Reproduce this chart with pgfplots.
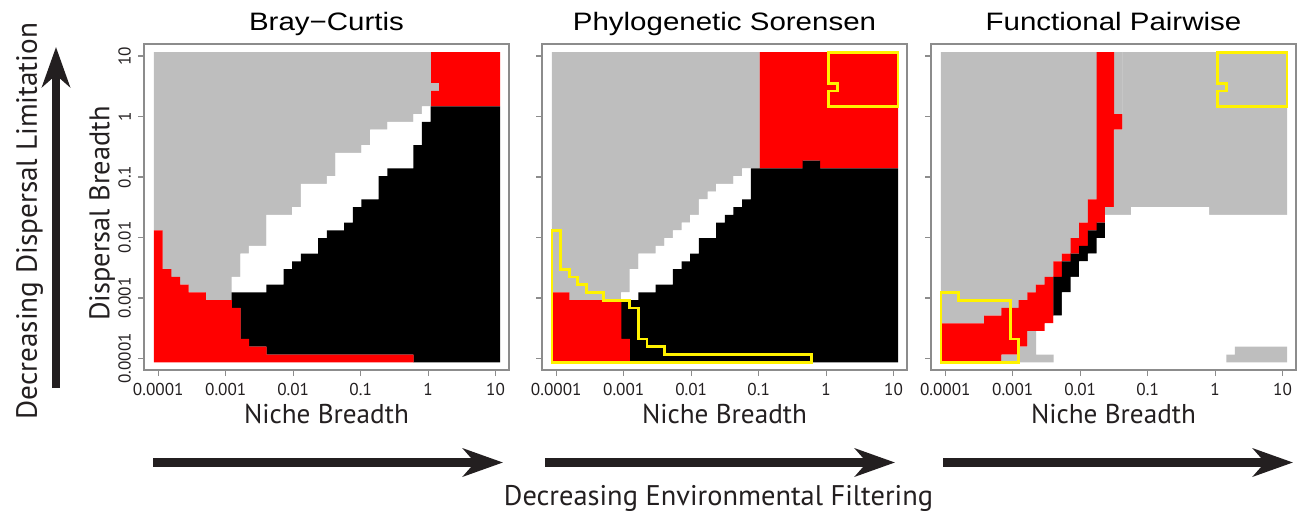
\documentclass[border=0pt]{standalone}
\usepackage{pgfplots}
\pgfplotsset{compat=1.18}
\usepackage{pgfplotstable}
\usepackage{fontspec}
\setmainfont{PT Sans}
\newfontfamily\rfont{Liberation Sans}
\usetikzlibrary{arrows.meta}

\definecolor{rgray}{RGB}{190,190,190}
\definecolor{framegray}{RGB}{140,140,140}
\definecolor{ink}{RGB}{35,31,32}

% 40x40 grid, one row per column of cells: heights of the coloured runs, bottom to top
% panel A: red, black, white, grey, red, grey, red
\pgfplotstableread{
c r k w g r2 g2 r3
0 17 0 0 23 0 0 0
1 12 0 0 28 0 0 0
2 11 0 0 29 0 0 0
3 10 0 0 30 0 0 0
4 9 0 0 31 0 0 0
5 9 0 0 31 0 0 0
6 8 0 0 32 0 0 0
7 8 0 0 32 0 0 0
8 8 0 0 32 0 0 0
9 7 2 2 29 0 0 0
10 3 6 5 26 0 0 0
11 2 7 6 25 0 0 0
12 2 7 6 25 0 0 0
13 1 9 9 21 0 0 0
14 1 9 9 21 0 0 0
15 1 11 7 21 0 0 0
16 1 12 7 20 0 0 0
17 1 13 9 17 0 0 0
18 1 13 9 17 0 0 0
19 1 15 7 17 0 0 0
20 1 16 7 16 0 0 0
21 1 16 10 13 0 0 0
22 1 17 9 13 0 0 0
23 1 19 7 13 0 0 0
24 1 20 7 12 0 0 0
25 1 20 9 10 0 0 0
26 1 23 6 10 0 0 0
27 1 24 6 9 0 0 0
28 1 24 6 9 0 0 0
29 1 24 6 9 0 0 0
30 0 28 4 8 0 0 0
31 0 31 2 7 0 0 0
32 0 33 0 0 2 1 4
33 0 33 0 0 7 0 0
34 0 33 0 0 7 0 0
35 0 33 0 0 7 0 0
36 0 33 0 0 7 0 0
37 0 33 0 0 7 0 0
38 0 33 0 0 7 0 0
39 0 33 0 0 7 0 0
}\tabA

% panel B: red, black, white, grey, red
\pgfplotstableread{
c r k w g r2
0 9 0 0 31 0
1 9 0 0 31 0
2 8 0 0 32 0
3 8 0 0 32 0
4 8 0 0 32 0
5 8 0 0 32 0
6 8 0 0 32 0
7 8 0 0 32 0
8 3 5 1 31 0
9 0 8 4 28 0
10 0 9 5 26 0
11 0 9 5 26 0
12 0 10 5 25 0
13 0 10 6 24 0
14 0 12 5 23 0
15 0 13 5 22 0
16 0 14 5 21 0
17 0 16 5 19 0
18 0 16 6 18 0
19 0 18 5 17 0
20 0 19 4 17 0
21 0 20 4 16 0
22 0 21 4 15 0
23 0 25 0 15 0
24 0 25 0 0 15
25 0 25 0 0 15
26 0 25 0 0 15
27 0 25 0 0 15
28 0 25 0 0 15
29 0 26 0 0 14
30 0 26 0 0 14
31 0 25 0 0 15
32 0 25 0 0 15
33 0 25 0 0 15
34 0 25 0 0 15
35 0 25 0 0 15
36 0 25 0 0 15
37 0 25 0 0 15
38 0 25 0 0 15
39 0 25 0 0 15
}\tabB

% panel C: grey, white, black, grey, red, grey
\pgfplotstableread{
c g1 w k g2 r g3
0 0 0 0 0 5 35
1 0 0 0 0 5 35
2 0 0 0 0 5 35
3 0 0 0 0 5 35
4 0 0 0 0 5 35
5 0 0 0 0 6 34
6 0 0 0 0 6 34
7 1 0 0 0 6 33
8 1 0 0 0 6 33
9 2 0 0 0 6 32
10 4 0 0 0 5 31
11 1 3 0 0 6 30
12 1 4 0 0 6 29
13 0 6 5 0 2 27
14 0 9 4 0 1 26
15 0 11 3 0 2 24
16 0 13 2 0 3 22
17 0 14 3 0 4 19
18 0 16 2 0 22 0
19 0 19 0 1 20 0
20 0 19 0 11 2 8
21 0 19 0 21 0 0
22 0 20 0 20 0 0
23 0 20 0 20 0 0
24 0 20 0 20 0 0
25 0 20 0 20 0 0
26 0 20 0 20 0 0
27 0 20 0 20 0 0
28 0 20 0 20 0 0
29 0 20 0 20 0 0
30 0 20 0 20 0 0
31 0 19 0 21 0 0
32 0 19 0 21 0 0
33 1 18 0 21 0 0
34 2 17 0 21 0 0
35 2 17 0 21 0 0
36 2 17 0 21 0 0
37 2 17 0 21 0 0
38 2 17 0 21 0 0
39 2 17 0 21 0 0
}\tabC

\pgfplotsset{
  geom/.style={width=182.5pt, height=163pt, scale only axis, anchor=south west,
    xmin=-1.15, xmax=41.05, ymin=-1, ymax=41.05, clip=false},
  panel/.style={geom,
    axis line style={framegray, line width=0.6pt},
    xtick={0.5,8.3,16.1,23.9,31.7,39.5},
    ytick={0.5,8.3,16.1,23.9,31.7,39.5},
    xticklabels={0.0001,0.001,0.01,0.1,1,10},
    yticklabels={,,,,,},
    xtick pos=lower, ytick pos=left,
    tick align=outside, major tick length=3pt,
    tick style={framegray, line width=0.6pt},
    ticklabel style={font=\fontsize{8.6}{10}\selectfont, text=ink},
    xlabel={Niche Breadth},
    xlabel style={at={(axis description cs:0.5,0)}, anchor=base, yshift=-26.5pt,
      font=\fontsize{13.6}{15}\selectfont, text=ink},
    title style={at={(axis description cs:0.5,1)}, anchor=base, yshift=1pt,
      xscale=1.17, font=\rfont\fontsize{12.6}{14}\selectfont},
    ybar stacked, bar width=1.03},
  cell/.style={fill=#1, draw=none},
  outline/.style={draw=yellow, line width=1.4pt, line join=miter, sharp plot, mark=none},
}
\tikzset{
  letter/.style={anchor=north west, inner sep=0pt, font=\rfont\fontsize{11}{12}\selectfont},
  bigarrow/.style={ink, line width=4.2pt, -{Stealth[length=20pt, width=14pt, inset=6pt]}},
}

\begin{document}
\begin{tikzpicture}
\path[use as bounding box] (0,0) rectangle (649pt,255.5pt);

% ---- A ----
\begin{axis}[panel, at={(72pt,70.5pt)}, title={Bray\textminus Curtis},
  yticklabels={0.0001,0.001,0.01,0.1,1,10},
  yticklabel style={rotate=90, anchor=south},
  ylabel={Dispersal Breadth},
  ylabel style={at={(axis description cs:-0.095,0.48)}, anchor=base,
    font=\fontsize{14.2}{16}\selectfont, text=ink}]
\addplot[cell=red]   table[x expr=\thisrow{c}+0.5, y=r]  {\tabA};
\addplot[cell=black] table[x expr=\thisrow{c}+0.5, y=k]  {\tabA};
\addplot[cell=white] table[x expr=\thisrow{c}+0.5, y=w]  {\tabA};
\addplot[cell=rgray] table[x expr=\thisrow{c}+0.5, y=g]  {\tabA};
\addplot[cell=red]   table[x expr=\thisrow{c}+0.5, y=r2] {\tabA};
\addplot[cell=rgray] table[x expr=\thisrow{c}+0.5, y=g2] {\tabA};
\addplot[cell=red]   table[x expr=\thisrow{c}+0.5, y=r3] {\tabA};
\node[letter] at (axis cs:0.35,39.3) {A};
\end{axis}

% ---- B ----
\begin{axis}[panel, at={(271pt,70.5pt)}, title={Phylogenetic Sorensen}]
\addplot[cell=red]   table[x expr=\thisrow{c}+0.5, y=r]  {\tabB};
\addplot[cell=black] table[x expr=\thisrow{c}+0.5, y=k]  {\tabB};
\addplot[cell=white] table[x expr=\thisrow{c}+0.5, y=w]  {\tabB};
\addplot[cell=rgray] table[x expr=\thisrow{c}+0.5, y=g]  {\tabB};
\addplot[cell=red]   table[x expr=\thisrow{c}+0.5, y=r2] {\tabB};
\node[letter] at (axis cs:0.35,39.3) {B};
\end{axis}
\begin{axis}[geom, at={(271pt,70.5pt)}, hide axis]
\addplot[outline] coordinates {(0,0) (0,17) (1,17) (1,12) (2,12) (2,11) (3,11) (3,10)
  (4,10) (4,9) (6,9) (6,8) (9,8) (9,7) (10,7) (10,3) (11,3) (11,2) (13,2) (13,1)
  (30,1) (30,0)} -- cycle;
\addplot[outline] coordinates {(32,33) (40,33) (40,40) (32,40) (32,36) (33,36)
  (33,35) (32,35)} -- cycle;
\end{axis}

% ---- C ----
\begin{axis}[panel, at={(465.5pt,70.5pt)}, title={Functional Pairwise}]
\addplot[cell=rgray] table[x expr=\thisrow{c}+0.5, y=g1] {\tabC};
\addplot[cell=white] table[x expr=\thisrow{c}+0.5, y=w]  {\tabC};
\addplot[cell=black] table[x expr=\thisrow{c}+0.5, y=k]  {\tabC};
\addplot[cell=rgray] table[x expr=\thisrow{c}+0.5, y=g2] {\tabC};
\addplot[cell=red]   table[x expr=\thisrow{c}+0.5, y=r]  {\tabC};
\addplot[cell=rgray] table[x expr=\thisrow{c}+0.5, y=g3] {\tabC};
\node[letter] at (axis cs:0.35,39.3) {C};
\end{axis}
\begin{axis}[geom, at={(465.5pt,70.5pt)}, hide axis]
\addplot[outline] coordinates {(0,0) (0,9) (2,9) (2,8) (8,8) (8,3) (9,3) (9,0)} -- cycle;
\addplot[outline] coordinates {(32,33) (40,33) (40,40) (32,40) (32,36) (33,36)
  (33,35) (32,35)} -- cycle;
\end{axis}

% ---- annotations ----
\draw[bigarrow] (28pt,61.5pt) -- (28pt,232pt);
\draw[bigarrow] (76.5pt,24.25pt) -- (251.5pt,24.25pt);
\draw[bigarrow] (272.5pt,24.25pt) -- (447.5pt,24.25pt);
\draw[bigarrow] (471.5pt,24.25pt) -- (646.5pt,24.25pt);
\node[rotate=90, anchor=base, font=\fontsize{14.6}{16}\selectfont, text=ink]
  at (18.5pt,145pt) {Decreasing Dispersal Limitation};
\node[anchor=base, font=\fontsize{14.2}{16}\selectfont, text=ink]
  at (359.25pt,3pt) {Decreasing Environmental Filtering};
\end{tikzpicture}
\end{document}
